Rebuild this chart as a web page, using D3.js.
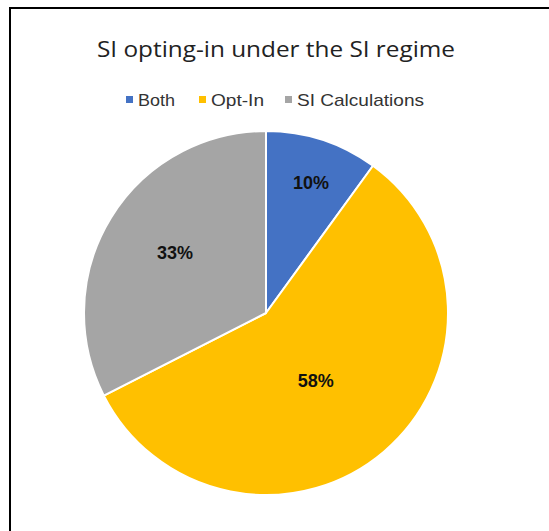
<!DOCTYPE html>
<html>
<head>
<meta charset="utf-8">
<script src="https://cdn.jsdelivr.net/npm/d3@7/dist/d3.min.js"></script>
<style>
  html, body { margin: 0; padding: 0; background: #fff; }
  svg { display: block; }
</style>
</head>
<body>
<svg id="chart" width="549" height="531"></svg>
<script>
const categories = ["Both", "Opt-In", "SI Calculations"];
const values = [10, 57.5, 32.5];
const percentLabels = ["10%", "58%", "33%"];
const colors = ["#4472C4", "#FFC000", "#A5A5A5"];
const titleText = "SI opting-in under the SI regime";

// label placement (fraction of radius, angle nudge in degrees) — style only
const labelRadiusFactor = [0.76, 0.46, 0.60];
const labelAngleNudge = [1, 4, 2];

const svg = d3.select("#chart");
const W = 549, H = 531;

svg.append("rect").attr("x", 0).attr("y", 0).attr("width", W).attr("height", H).attr("fill", "#fff");
svg.append("line").attr("x1", 9).attr("x2", W).attr("y1", 8).attr("y2", 8)
  .attr("stroke", "#000").attr("stroke-width", 2);
svg.append("line").attr("x1", 10).attr("x2", 10).attr("y1", 7).attr("y2", H)
  .attr("stroke", "#000").attr("stroke-width", 2);

// title
svg.append("text")
  .attr("x", 276).attr("y", 57)
  .attr("text-anchor", "middle")
  .attr("font-family", "'Open Sans', 'Noto Sans', sans-serif")
  .attr("font-size", 22)
  .attr("textLength", 358)
  .attr("lengthAdjust", "spacingAndGlyphs")
  .attr("fill", "#222")
  .text(titleText);

// legend
const legendX = [126, 199, 285];
const legendW = [37, 53, 127];
const legend = svg.append("g").attr("font-family", "'Liberation Sans', Arial, sans-serif")
  .attr("font-size", 17).attr("fill", "#333");
categories.forEach((c, i) => {
  legend.append("rect").attr("x", legendX[i]).attr("y", 96).attr("width", 7).attr("height", 7).attr("fill", colors[i]);
  legend.append("text").attr("x", legendX[i] + 12).attr("y", 106)
    .attr("textLength", legendW[i]).attr("lengthAdjust", "spacingAndGlyphs")
    .attr("fill", "#333").text(c);
});

// pie
const cx = 266, cy = 313, R = 182;
const pie = d3.pie().sort(null).value(d => d)(values);
const arc = d3.arc().innerRadius(0).outerRadius(R);
const g = svg.append("g").attr("transform", `translate(${cx},${cy})`);
g.selectAll("path").data(pie).enter().append("path")
  .attr("d", arc)
  .attr("fill", (d, i) => colors[i])
  .attr("stroke", "#fff")
  .attr("stroke-width", 2)
  .attr("stroke-linejoin", "round");

g.selectAll("text.lbl").data(pie).enter().append("text")
  .attr("class", "lbl")
  .attr("transform", (d, i) => {
    const r = R * labelRadiusFactor[i];
    const a = (d.startAngle + d.endAngle) / 2 + labelAngleNudge[i] * Math.PI / 180;
    return `translate(${r * Math.sin(a)},${-r * Math.cos(a)})`;
  })
  .attr("text-anchor", "middle")
  .attr("dy", "0.36em")
  .attr("font-family", "'Liberation Sans', Arial, sans-serif")
  .attr("font-weight", "bold")
  .attr("font-size", 18)
  .attr("fill", "#111")
  .text((d, i) => percentLabels[i]);
</script>
</body>
</html>
